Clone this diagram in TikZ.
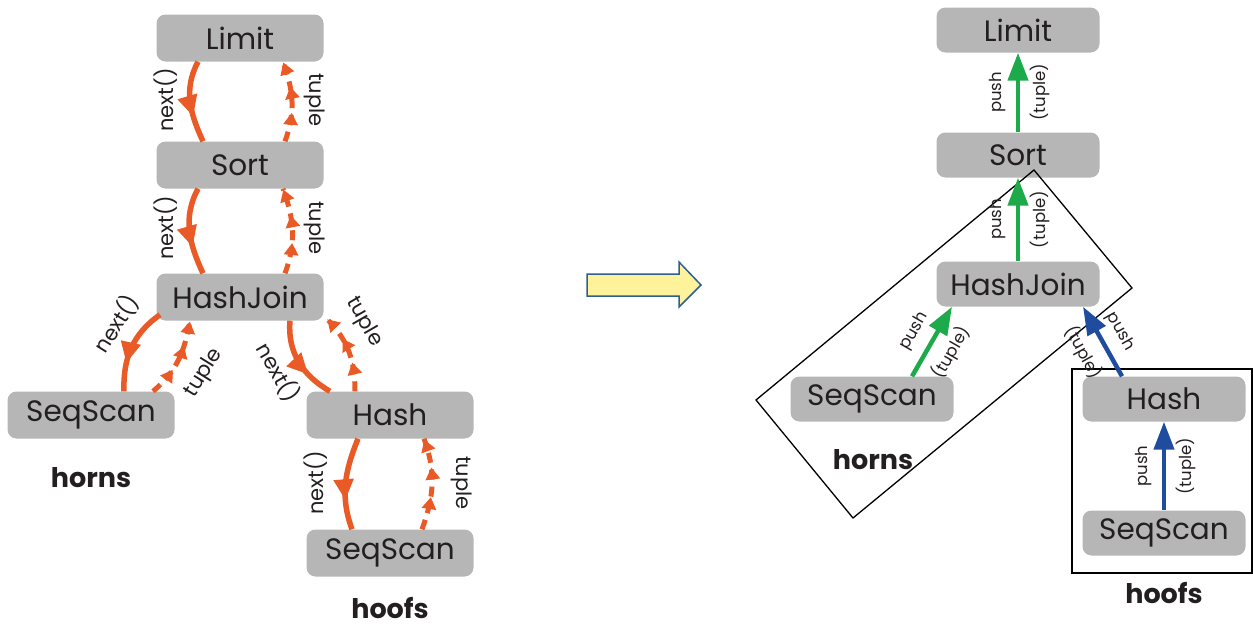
\documentclass[tikz,border=0pt]{standalone}
\usepackage{fontspec}
\setmainfont{Poppins}
\usetikzlibrary{arrows.meta,decorations.markings}
\definecolor{opgray}{HTML}{B5B6B5}
\definecolor{optext}{HTML}{231F20}
\definecolor{callorange}{HTML}{E95A26}
\definecolor{pushgreen}{HTML}{1DAA4A}
\definecolor{pushblue}{HTML}{1F4C9F}
\definecolor{shiftyellow}{HTML}{FEF29B}
\definecolor{shiftblue}{HTML}{2E5F8F}

\begin{document}
\begin{tikzpicture}[x=1pt, y=-1pt,
    op/.style={fill=opgray, rounded corners=9pt, text=optext, inner sep=0pt,
               minimum width=167pt, minimum height=47pt, font=\fontsize{29.5}{31}\selectfont},
    opr/.style={op, minimum width=163pt, minimum height=45pt},
    grp/.style={text=optext, inner sep=0pt, font=\fontsize{27}{29}\selectfont\bfseries},
    lbl/.style={text=optext, inner sep=0pt, font=\fontsize{21}{23}\selectfont},
    plbl/.style={text=optext, inner sep=0pt, font=\fontsize{16.5}{18}\selectfont},
    nextarrow/.style={callorange, line width=5.5pt, postaction={decorate},
      decoration={markings, mark=at position 0.68 with {\arrow{Triangle[length=21pt,width=19pt]}}}},
    tuplearrow/.style={callorange, line width=5pt, dash pattern=on 10pt off 7pt, postaction={decorate},
      decoration={markings,
        mark=at position 0.36 with {\arrow{Triangle[length=12pt,width=14pt]}},
        mark=at position 0.68 with {\arrow{Triangle[length=12pt,width=14pt]}},
        mark=at position 0.99 with {\arrow{Triangle[length=12pt,width=14pt]}}}},
    pusharrow/.style={line width=4.5pt, -{Triangle[length=28pt,width=20pt]}}]
  \useasboundingbox (0,0) rectangle (1253,627);

  % pull model
  \node[op] (lLimit) at (240,38) {Limit};
  \node[op] (lSort) at (240,165) {Sort};
  \node[op] (lJoin) at (240,297) {HashJoin};
  \node[op] (lScanH) at (91,415) {SeqScan};
  \node[op] (lHash) at (390,415) {Hash};
  \node[op] (lScanF) at (390,553) {SeqScan};
  \node[grp] (lHorns) at (91,478) {horns};
  \node[grp] (lHoofs) at (390,608) {hoofs};

  \draw[nextarrow] ([xshift=-42pt]lLimit.south) to[out=-118, in=115] ([xshift=-37pt]lSort.north);
  \draw[tuplearrow] ([xshift=45pt]lSort.north) to[out=70, in=-70] ([xshift=43pt]lLimit.south);
  \draw[nextarrow] ([xshift=-42pt]lSort.south) to[out=-118, in=115] ([xshift=-37pt]lJoin.north);
  \draw[tuplearrow] ([xshift=45pt]lJoin.north) to[out=70, in=-70] ([xshift=43pt]lSort.south);
  \draw[nextarrow] ([xshift=-80pt,yshift=6pt]lJoin.south) to[out=-145, in=92] ([xshift=33pt]lScanH.north);
  \draw[tuplearrow] ([xshift=62pt]lScanH.north) to[out=40, in=-100] ([xshift=-50pt]lJoin.south);
  \draw[nextarrow] ([xshift=50pt]lJoin.south) to[out=-95, in=150] ([xshift=-60pt]lHash.north);
  \draw[tuplearrow] ([xshift=-35pt]lHash.north) to[out=90, in=-45] ([xshift=3pt,yshift=2pt]lJoin.south east);
  \draw[nextarrow] ([xshift=-32pt]lHash.south) to[out=-112, in=110] ([xshift=-38pt]lScanF.north);
  \draw[tuplearrow] ([xshift=32pt]lScanF.north) to[out=70, in=-70] ([xshift=34pt]lHash.south);

  \node[lbl, rotate=90] (nextA) at (166,100) {next()};
  \node[lbl, rotate=-90] (tupleA) at (315,100) {tuple};
  \node[lbl, rotate=90] (nextB) at (166,228) {next()};
  \node[lbl, rotate=-90] (tupleB) at (315,228) {tuple};
  \node[lbl, rotate=58] (nextC) at (116,324) {next()};
  \node[lbl, rotate=58] (tupleC) at (204,373) {tuple};
  \node[lbl, rotate=-60] (nextD) at (278,372) {next()};
  \node[lbl, rotate=-60] (tupleD) at (364,322) {tuple};
  \node[lbl, rotate=90] (nextE) at (316,483) {next()};
  \node[lbl, rotate=-90] (tupleE) at (462,483) {tuple};

  \draw[shiftblue, line width=1.5pt, fill=shiftyellow, line join=miter]
    (587,274) -- (679,274) -- (679,262) -- (701,285) -- (679,307) -- (679,296) -- (587,296) -- cycle;

  % push model
  \node[opr] (rLimit) at (1018,30) {Limit};
  \node[opr] (rSort) at (1018,155) {Sort};
  \node[opr] (rJoin) at (1018,284) {HashJoin};
  \node[opr] (rScanH) at (872,399) {SeqScan};
  \node[opr] (rHash) at (1164,399) {Hash};
  \node[opr] (rScanF) at (1164,533) {SeqScan};
  \node[grp] (rHorns) at (873,460) {horns};
  \node[grp] (rHoofs) at (1164,593) {hoofs};

  \draw[line width=1.3pt] (1034,170) -- (1132,288) -- (853,518) -- (756,400) -- cycle;
  \draw[line width=1.3pt] (1072,369) rectangle (1252,573);

  \draw[pusharrow, pushgreen] (rSort.north) -- (rLimit.south)
    node[midway, sloped, above=10pt, plbl] (pushA) {push}
    node[midway, sloped, below=10pt, plbl] (tupA) {(tuple)};
  \draw[pusharrow, pushgreen] (rJoin.north) -- (rSort.south)
    node[midway, sloped, above=10pt, plbl] (pushB) {push}
    node[midway, sloped, below=10pt, plbl] (tupB) {(tuple)};
  \draw[pusharrow, pushgreen] ([xshift=40pt]rScanH.north) -- ([xshift=-66pt]rJoin.south)
    node[midway, sloped, above=10pt, plbl] (pushC) {push}
    node[midway, sloped, below=10pt, plbl] (tupC) {(tuple)};
  \draw[pusharrow, pushblue] ([xshift=-42pt]rHash.north) -- ([xshift=65pt]rJoin.south)
    node[midway, sloped, above=10pt, plbl] (pushD) {push}
    node[midway, sloped, below=10pt, plbl] (tupD) {(tuple)};
  \draw[pusharrow, pushblue] (rScanF.north) -- (rHash.south)
    node[midway, sloped, above=10pt, plbl] (pushE) {push}
    node[midway, sloped, below=10pt, plbl] (tupE) {(tuple)};
\end{tikzpicture}
\end{document}
